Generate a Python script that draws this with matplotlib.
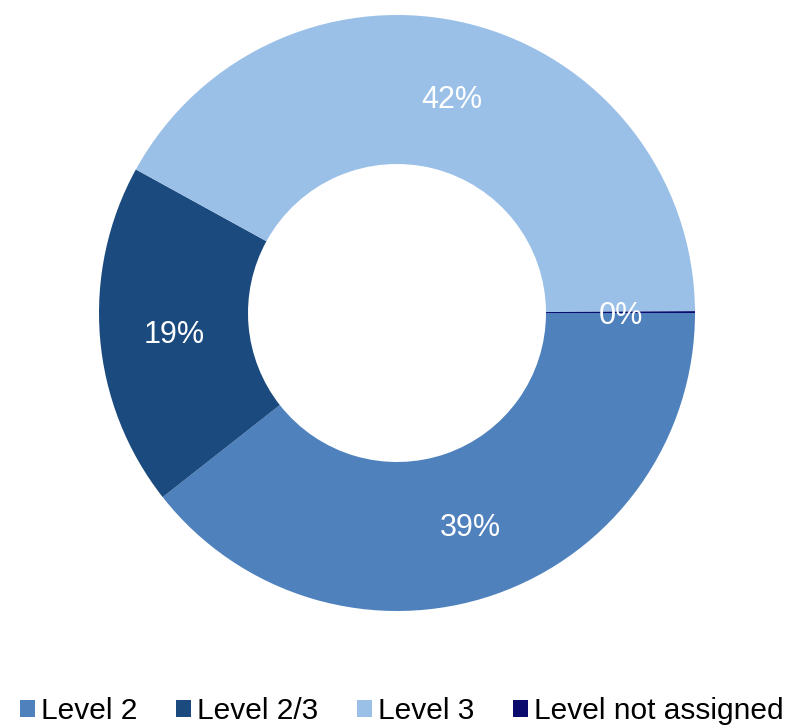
import matplotlib.pyplot as plt
from matplotlib.patches import Patch

# データ
categories = ["Level 2", "Level 2/3", "Level 3", "Level not assigned"]
shares = [39.4, 18.6, 41.9, 0.1]
colors = ["#4f81bd", "#1a4a7e", "#9bc0e8", "#0b0b6e"]

W, H = 792, 727
fig = plt.figure(figsize=(W / 100, H / 100), dpi=100)

# ドーナツの位置 (中心 397,313 / 半径 298 px)
cx, cy, r = 397, 313, 298
ax = fig.add_axes([(cx - r) / W, 1 - (cy + r) / H, 2 * r / W, 2 * r / H])

wedges, _, autotexts = ax.pie(
    shares,
    colors=colors,
    startangle=0,
    counterclock=False,
    radius=1.0,
    autopct=lambda p: f"{round(p):.0f}%",
    pctdistance=0.75,
    wedgeprops=dict(width=0.5, edgecolor="none"),
    textprops=dict(color="white", fontsize=22, family=["Liberation Sans", "DejaVu Sans"]),
)
for t in autotexts:
    t.set_va("center_baseline")
ax.set_xlim(-1, 1)
ax.set_ylim(-1, 1)
ax.set_aspect("equal")

handles = [Patch(facecolor=c, edgecolor="none") for c in colors]
fig.legend(
    handles, categories,
    loc="center",
    bbox_to_anchor=(402 / W, 1 - 711 / H),
    ncol=4,
    frameon=False,
    prop=dict(family=["Liberation Sans", "DejaVu Sans"], size=21.5),
    handlelength=0.5,
    handleheight=0.5,
    handletextpad=0.2,
    columnspacing=1.3,
    borderpad=0,
)

fig.savefig("out.png", dpi=100)
